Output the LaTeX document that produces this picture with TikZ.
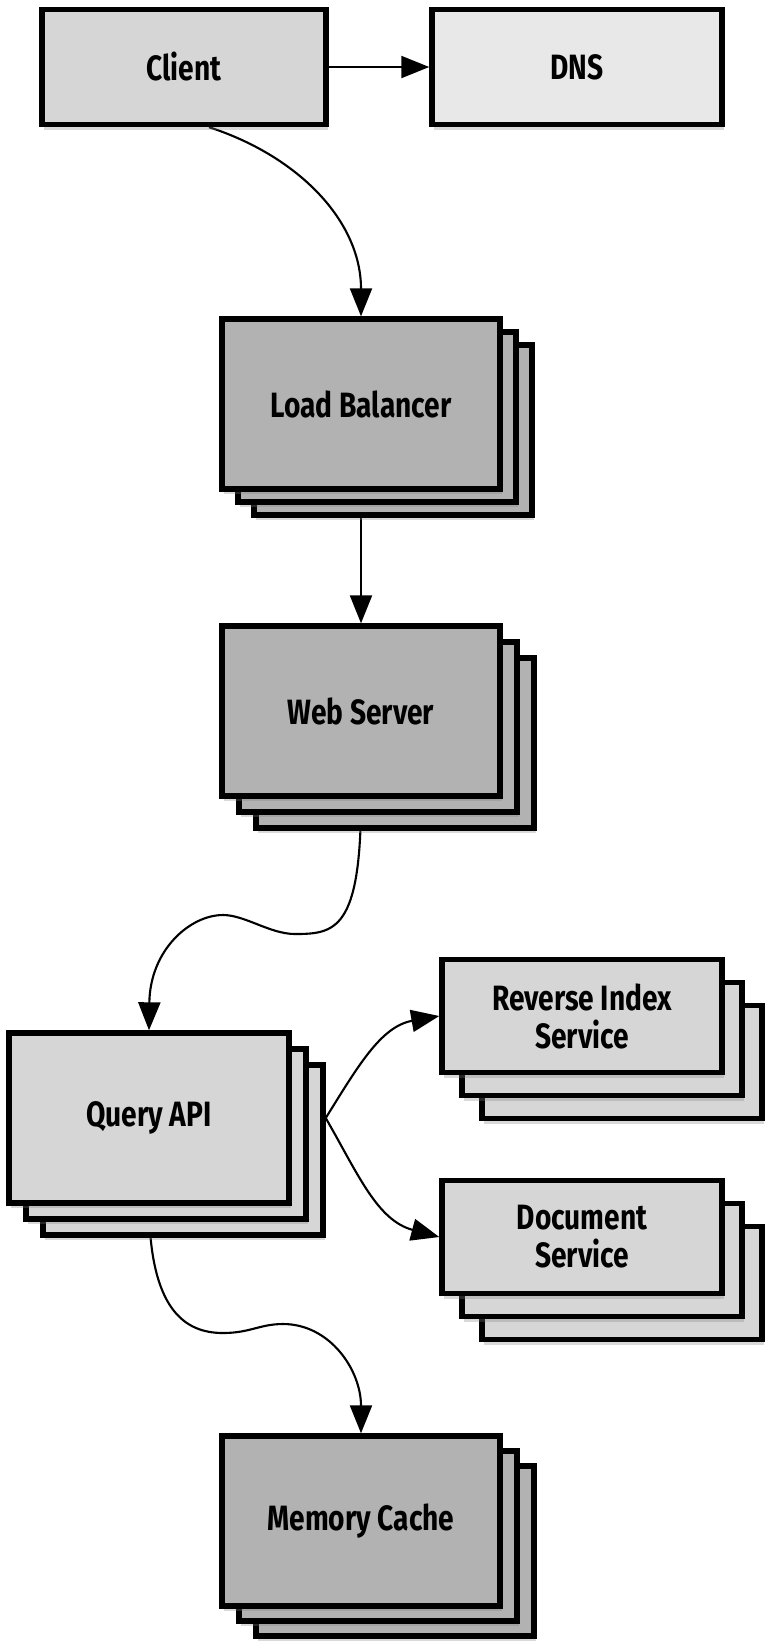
\documentclass[tikz,border=0pt]{standalone}
\usepackage{fontspec}
\newfontfamily\boxfont{Fira Sans}[FakeStretch=0.8]
\usetikzlibrary{arrows.meta,shadows,calc,backgrounds}

\definecolor{boxlight}{HTML}{D6D6D6}
\definecolor{boxpale}{HTML}{E8E8E8}
\definecolor{boxdark}{HTML}{B2B2B2}

\tikzset{
  box/.style={draw=black, line width=1.5pt, inner sep=0pt, align=center,
    font=\boxfont\bfseries\fontsize{10}{10.8}\selectfont,
    drop shadow={shadow xshift=0.02cm, shadow yshift=-0.05cm, opacity=0.3}},
  topbox/.style={box, minimum width=2.84cm, minimum height=1.15cm},
  stackbox/.style={box, minimum width=2.78cm, minimum height=1.70cm},
  servicebox/.style={box, minimum width=2.80cm, minimum height=1.13cm},
  conn/.style={line width=0.6pt, -{Triangle[length=0.28cm, width=0.22cm]}},
}

% three copies of a box: name, style, centre, layer shift, text
\newcommand{\stacked}[5]{%
  \node[#2] (#1-3) at ($(#3)+2*(#4)$) {};
  \node[#2] (#1-2) at ($(#3)+(#4)$) {};
  \node[#2] (#1) at (#3) {#5};
}

\begin{document}
\begin{tikzpicture}[x=0.01cm, y=0.01cm]
    \useasboundingbox (0,0) rectangle (767,-1644);

    % Client and DNS
    \node[topbox, fill=boxlight] (Client) at (184,-67) {Client};
    \node[topbox, fill=boxpale, minimum width=2.90cm] (DNS) at (577,-67) {DNS};

    % Stacked tiers
    \stacked{LB}{stackbox, fill=boxdark}{361,-404}{16,-13}{Load Balancer}
    \stacked{WS}{stackbox, fill=boxdark}{361,-711}{17,-16}{Web Server}
    \stacked{QA}{stackbox, fill=boxlight, minimum width=2.80cm}{149,-1118}{17,-16}{Query API}
    \stacked{RIS}{servicebox, fill=boxlight}{582,-1016}{20,-23}{Reverse Index\\Service}
    \stacked{DS}{servicebox, fill=boxlight}{582,-1237}{20,-23}{Document\\Service}
    \stacked{MC}{stackbox, fill=boxdark}{361,-1521}{17,-15}{Memory Cache}

    % Connectors, behind the boxes
    \begin{scope}[on background layer]
        \draw[conn] (Client.east) -- (DNS.west);
        \draw[conn] ([xshift=0.25cm]Client.south) to[out=-18, in=90] (LB.north);
        \draw[conn] (LB.south) -- (WS.north);
        \draw[conn] (WS.south) .. controls (361,-930) and (335,-934) .. (295,-934)
            .. controls (270,-934) and (245,-915) .. (223,-915)
            .. controls (190,-915) and (150,-950) .. (QA.north);
        \draw[conn] (QA.east -| QA-3.east) to[out=58, in=190] (RIS.west);
        \draw[conn] (QA.east -| QA-3.east) to[out=-60, in=165] (DS.west);
        \draw[conn] (QA.south) .. controls (150,-1310) and (185,-1333) .. (223,-1333)
            .. controls (250,-1333) and (260,-1324) .. (283,-1324)
            .. controls (330,-1324) and (361,-1370) .. (MC.north);
    \end{scope}
\end{tikzpicture}
\end{document}
